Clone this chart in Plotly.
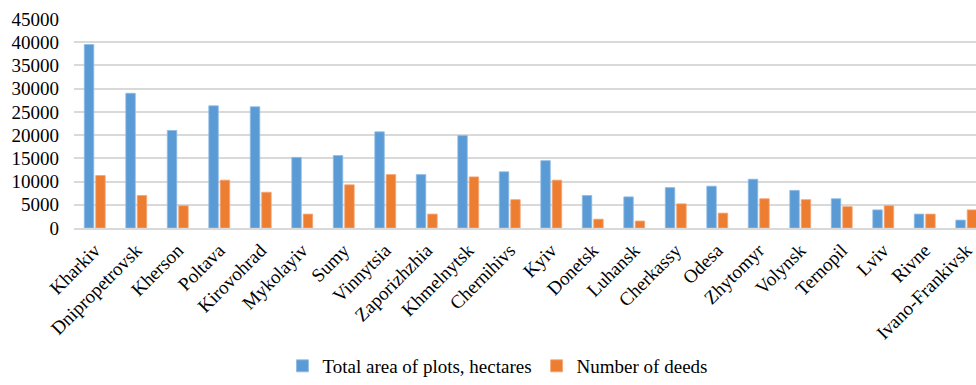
import plotly.graph_objects as go

regions = ["Kharkiv", "Dnipropetrovsk", "Kherson", "Poltava", "Kirovohrad", "Mykolayiv",
           "Sumy", "Vinnytsia", "Zaporizhzhia", "Khmelnytsk", "Chernihivs", "Kyiv",
           "Donetsk", "Luhansk", "Cherkassy", "Odesa", "Zhytomyr", "Volynsk",
           "Ternopil", "Lviv", "Rivne", "Ivano-Frankivsk"]

total_area = [39500, 29000, 21000, 26300, 26100, 15200,
              15600, 20700, 11500, 19900, 12100, 14500,
              7000, 6700, 8700, 9000, 10500, 8100,
              6300, 3900, 3000, 1700]

num_deeds = [11300, 7000, 4800, 10300, 7700, 3000,
             9300, 11500, 3000, 11000, 6100, 10300,
             1900, 1500, 5200, 3200, 6300, 6100,
             4600, 4800, 3000, 3900]

y_ticks = [0, 5000, 10000, 15000, 20000, 25000, 30000, 35000, 40000, 45000]

FONT = "Liberation Serif, Times New Roman, serif"
BLUE = "#5B9BD5"
ORANGE = "#ED7D31"
GRID = "#D9D9D9"
FS = 19

fig = go.Figure()
fig.add_trace(go.Bar(x=regions, y=total_area, name="Total area of plots, hectares",
                     marker=dict(color=BLUE, line=dict(color="#8DBBE6", width=0.8))))
fig.add_trace(go.Bar(x=regions, y=num_deeds, name="Number of deeds",
                     marker=dict(color=ORANGE, line=dict(color="#F5A576", width=0.8))))

# plot area runs to the right edge; trim the last category slot accordingly
n = len(regions)
fig.update_layout(
    width=976, height=385,
    margin=dict(l=74, r=0, t=19, b=157),
    paper_bgcolor="white", plot_bgcolor="white",
    barmode="group", bargap=0.45, bargroupgap=0.17,
    font=dict(family=FONT, size=FS, color="#000000"),
    showlegend=True,
    legend=dict(orientation="h", x=0.47, xanchor="center",
                yref="container", y=-0.025, yanchor="bottom",
                font=dict(family=FONT, size=FS), itemwidth=30, traceorder="normal"),
    xaxis=dict(range=[-0.5, n - 0.5 - 0.265], tickangle=-45, showgrid=False,
               showline=True, linecolor=GRID, linewidth=1.5, ticks="",
               tickfont=dict(family=FONT, size=FS), ticklabelstandoff=2,
               automargin=False),
    yaxis=dict(range=[0, 45000], tickvals=y_ticks, ticktext=[str(v) for v in y_ticks],
               showgrid=True, gridcolor=GRID, gridwidth=1.5, zeroline=False,
               showline=False, ticks="", ticklabelstandoff=14,
               tickfont=dict(family=FONT, size=FS), automargin=False),
)

fig.write_html("out.html")
